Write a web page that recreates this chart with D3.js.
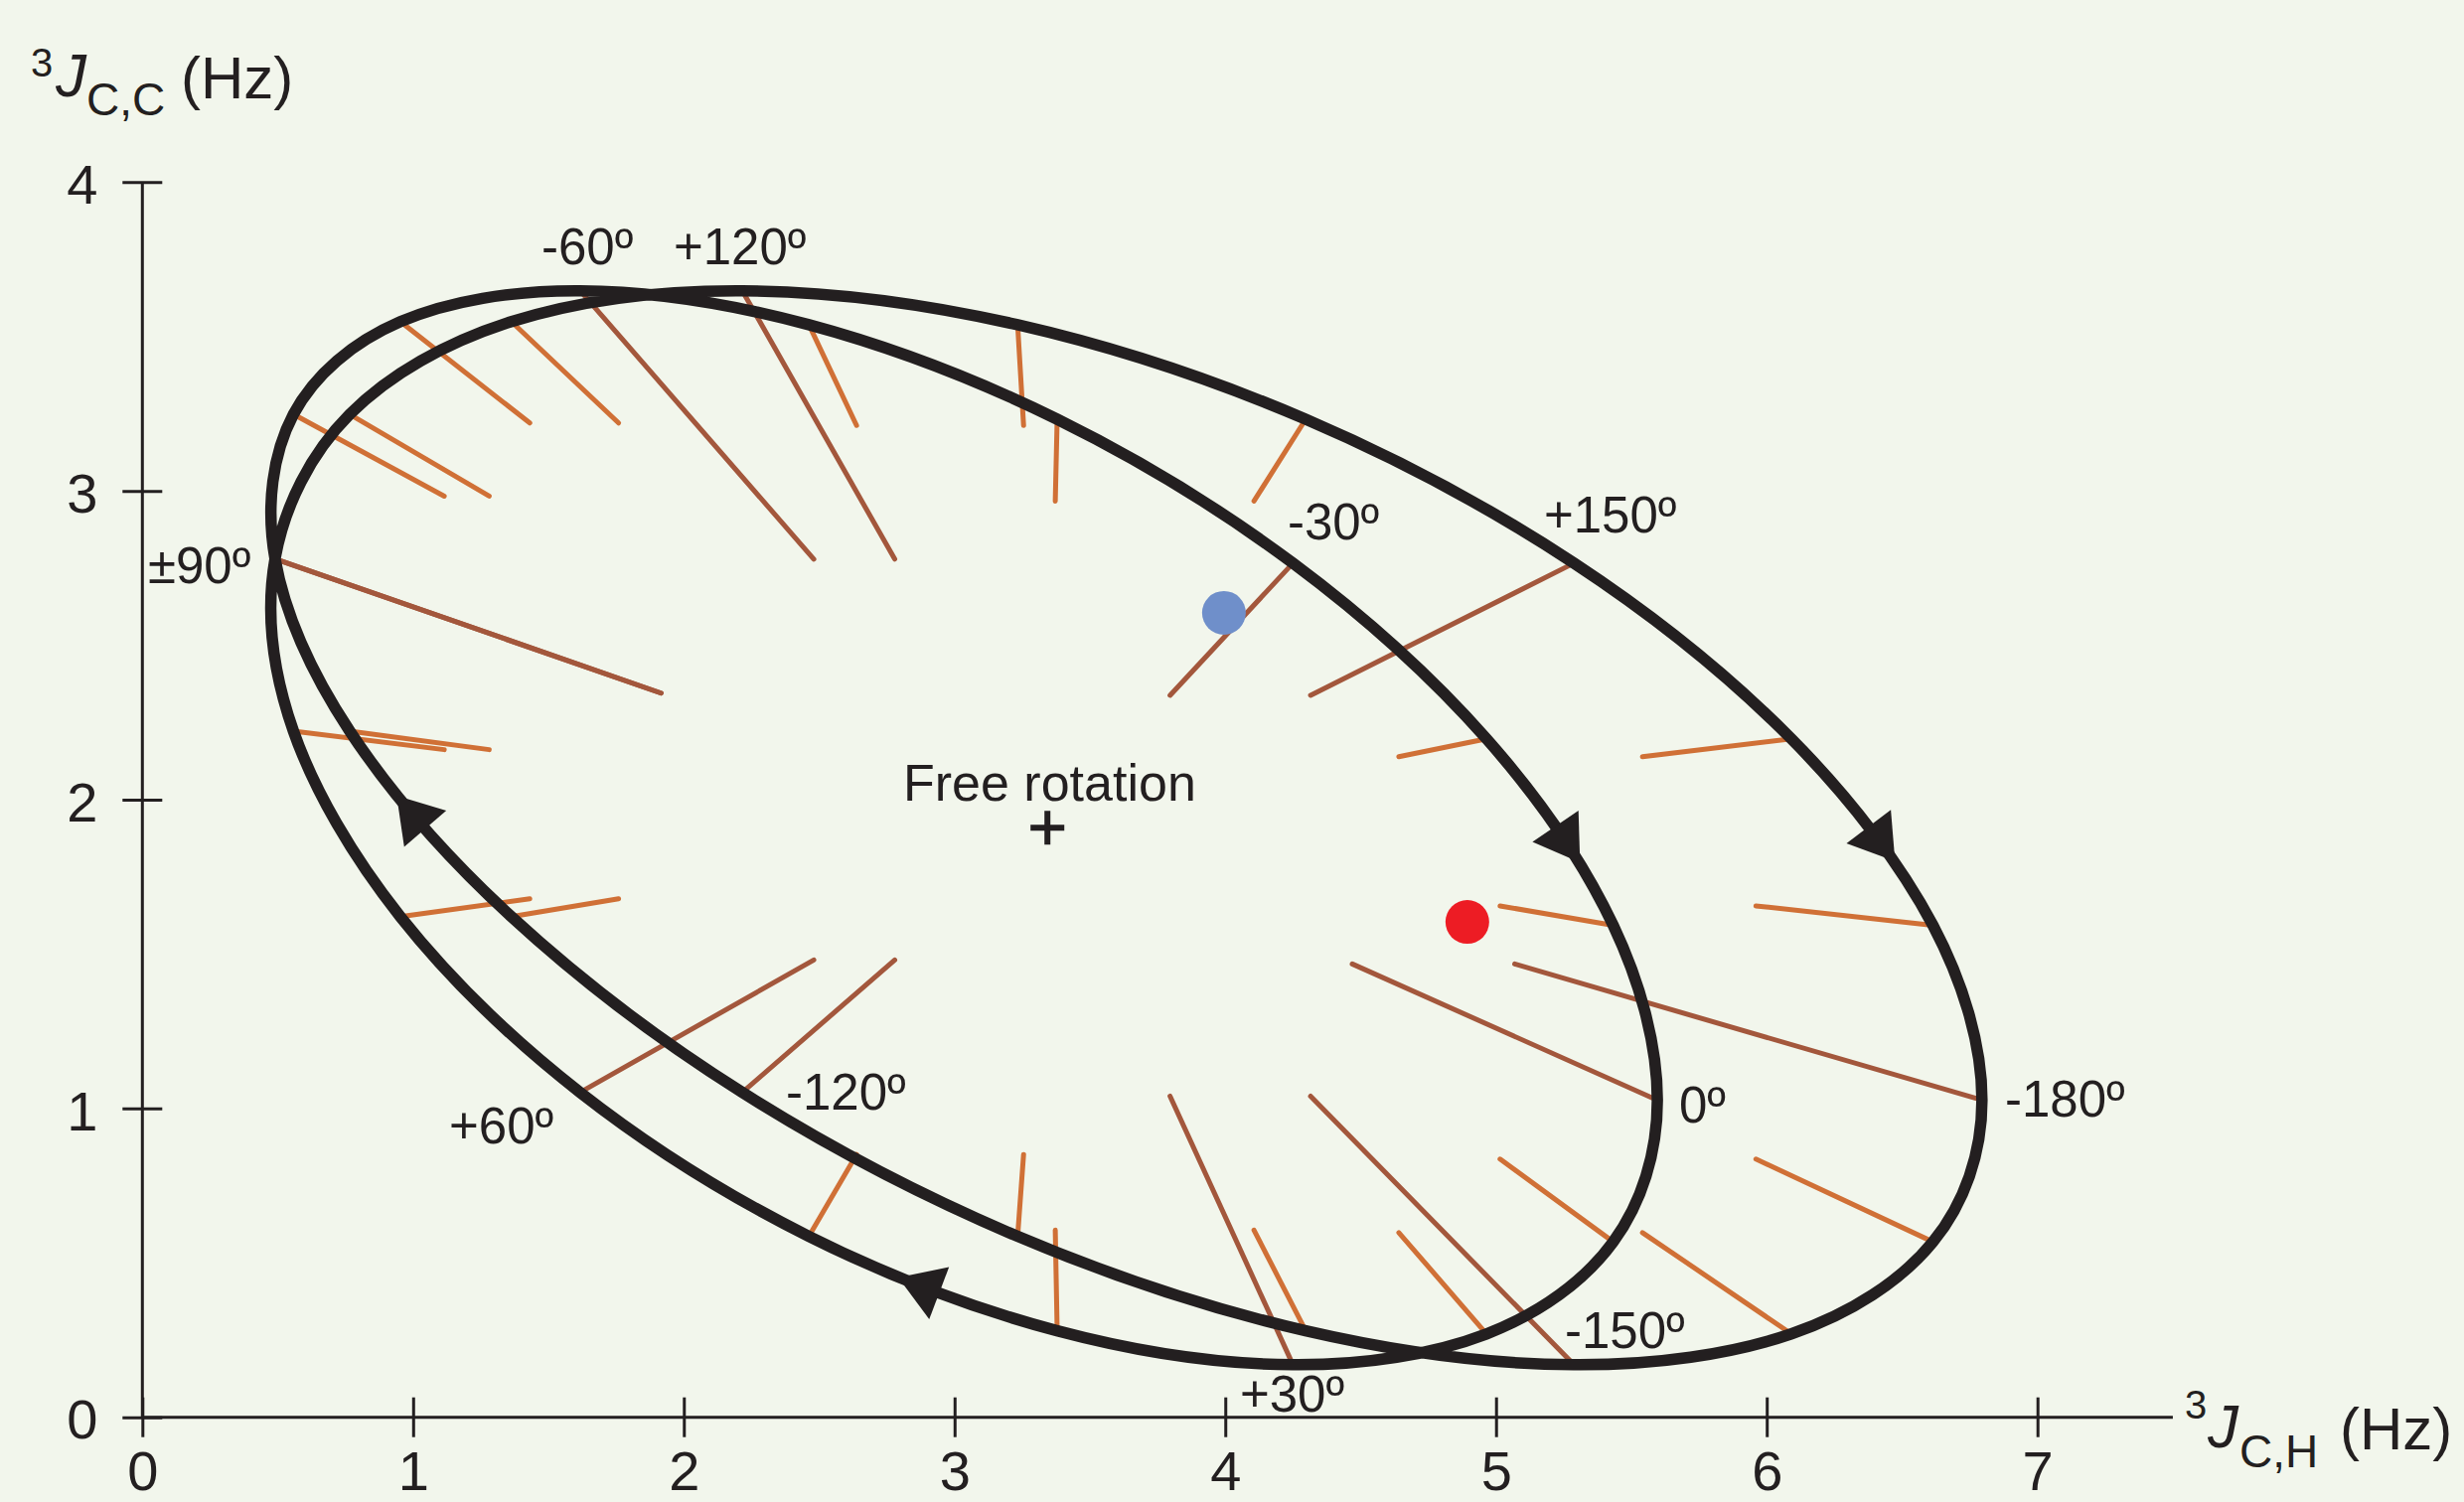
<!DOCTYPE html>
<html>
<head>
<meta charset="utf-8">
<script src="https://cdn.jsdelivr.net/npm/d3@7"></script>
<style>
  body { margin: 0; background: #f2f6ec; }
  svg { display: block; }
  text { font-family: "Liberation Sans", Arial, sans-serif; fill: #231f20; }
</style>
</head>
<body>
<svg id="chart" width="2480" height="1512"></svg>
<script>
// torsion angle (deg) for each point of the curve, every 10 degrees
var angles = [-180, -170, -160, -150, -140, -130, -120, -110, -100, -90, -80, -70,
  -60, -50, -40, -30, -20, -10, 0, 10, 20, 30, 40, 50,
  60, 70, 80, 90, 100, 110, 120, 130, 140, 150, 160, 170];

// 3J(C,H) and 3J(C,C) on the curve (Hz)
var jCH = [6.795, 6.614, 6.091, 5.288, 4.297, 3.233, 2.216, 1.363, 0.766, 0.490, 0.558, 0.953,
  1.617, 2.462, 3.379, 4.250, 4.965, 5.433, 5.596, 5.433, 4.965, 4.250, 3.379, 2.462,
  1.617, 0.953, 0.558, 0.490, 0.766, 1.363, 2.216, 3.233, 4.297, 5.288, 6.091, 6.614];
var jCC = [1.027, 0.568, 0.270, 0.170, 0.280, 0.586, 1.052, 1.621, 2.222, 2.780, 3.248, 3.548,
  3.648, 3.538, 3.232, 2.766, 2.197, 1.593, 1.027, 0.568, 0.270, 0.170, 0.280, 0.586,
  1.052, 1.621, 2.222, 2.780, 3.248, 3.548, 3.648, 3.538, 3.232, 2.766, 2.197, 1.593];

// inner end of the tick drawn from each curve point
var endCH = [5.069, 5.960, 5.541, 4.315, 4.106, 3.255, 2.779, 1.759, 1.281, 1.916, 1.115, 1.431,
  2.480, 2.638, 3.372, 3.796, 4.641, 5.015, 4.469, 5.015, 4.641, 3.796, 3.372, 2.638,
  2.480, 1.431, 1.115, 1.916, 1.281, 1.759, 2.779, 3.255, 4.106, 4.315, 5.541, 5.960];
var endCC = [1.468, 0.836, 0.598, 1.040, 0.606, 0.851, 1.481, 1.679, 2.162, 2.345, 2.983, 3.220,
  2.779, 3.212, 2.967, 2.338, 2.139, 1.656, 1.468, 0.836, 0.598, 1.040, 0.606, 0.851,
  1.481, 1.679, 2.162, 2.345, 2.983, 3.220, 2.779, 3.212, 2.967, 2.338, 2.139, 1.656];

// direction arrows: position on the curve and tangent (per radian)
var arrowCH = [1.028, 5.234, 2.919, 6.392];
var arrowCC = [1.923, 1.895, 0.410, 1.895];
var arrowDCH = [-3.432, 2.698, -5.282, 3.008];
var arrowDCC = [3.478, -3.478, 1.764, -3.478];

var freeRotation = [3.343, 1.909];
var dotCH = [3.995, 4.894];
var dotCC = [2.605, 1.604];

var angleLabels = ['-60º', '+120º', '-30º', '+150º', '±90º', '+60º', '-120º', '0º', '-180º', '-150º', '+30º'];
var labelCH = [1.474, 1.962, 4.230, 5.177, 0.021, 1.133, 2.377, 5.676, 6.880, 5.254, 4.054];
var labelCC = [3.733, 3.733, 2.843, 2.866, 2.702, 0.886, 0.996, 0.954, 0.973, 0.225, 0.018];

var xTicks = [0, 1, 2, 3, 4, 5, 6, 7];
var yTicks = [0, 1, 2, 3, 4];

var ink = '#231f20';
var svg = d3.select('#chart');

svg.append('rect').attr('width', 2480).attr('height', 1512).attr('fill', '#f2f6ec');

var x = d3.scaleLinear().domain([0, 7]).range([143.3, 2050.7]);
var y = d3.scaleLinear().domain([0, 4]).range([1426.7, 183.3]);

var points = angles.map(function(a, i) {
  return { angle: a, ch: jCH[i], cc: jCC[i], ech: endCH[i], ecc: endCC[i] };
});

// axes
var xAxis = d3.axisBottom(x).tickValues(xTicks).tickFormat(d3.format('d')).tickSize(40).tickPadding(14);
var gx = svg.append('g')
  .attr('transform', 'translate(0,' + (y(0) - 20) + ')')
  .call(xAxis);
gx.select('.domain').remove();
gx.selectAll('line').attr('stroke', ink).attr('stroke-width', 3);
gx.selectAll('text').attr('font-size', 56);

var yAxis = d3.axisLeft(y).tickValues(yTicks).tickFormat(d3.format('d')).tickSize(40).tickPadding(25);
var gy = svg.append('g')
  .attr('transform', 'translate(' + (x(0) + 20) + ',0)')
  .call(yAxis);
gy.select('.domain').remove();
gy.selectAll('line').attr('stroke', ink).attr('stroke-width', 3);
gy.selectAll('text').attr('font-size', 56).attr('dy', '0.38em');
gx.attr('font-family', null);
gy.attr('font-family', null);

svg.append('line')
  .attr('x1', x(0)).attr('x2', x(7.5))
  .attr('y1', y(0)).attr('y2', y(0))
  .attr('stroke', ink).attr('stroke-width', 3);
svg.append('line')
  .attr('x1', x(0)).attr('x2', x(0))
  .attr('y1', y(0)).attr('y2', y(4))
  .attr('stroke', ink).attr('stroke-width', 3);

// ticks from the curve towards the free-rotation point
svg.append('g').selectAll('line')
  .data(points)
  .enter()
  .append('line')
  .attr('x1', function(d) { return x(d.ch); })
  .attr('y1', function(d) { return y(d.cc); })
  .attr('x2', function(d) { return x(d.ech); })
  .attr('y2', function(d) { return y(d.ecc); })
  .attr('stroke', function(d) { return d.angle % 30 === 0 ? '#a3573c' : '#d07036'; })
  .attr('stroke-width', 5)
  .attr('stroke-linecap', 'round');

// dots
svg.append('g').selectAll('circle')
  .data(dotCH)
  .enter()
  .append('circle')
  .attr('cx', function(d) { return x(d); })
  .attr('cy', function(d, i) { return y(dotCC[i]); })
  .attr('r', 22)
  .attr('fill', function(d, i) { return i === 0 ? '#6f8fca' : '#ed1c24'; });

// the curve
var line = d3.line()
  .x(function(d) { return x(d.ch); })
  .y(function(d) { return y(d.cc); })
  .curve(d3.curveCardinalClosed.tension(0));

svg.append('path')
  .datum(points)
  .attr('d', line)
  .attr('fill', 'none')
  .attr('stroke', ink)
  .attr('stroke-width', 11.5)
  .attr('stroke-linejoin', 'round');

// arrowheads
var kx = x(1) - x(0), ky = y(0) - y(1);
svg.append('g').selectAll('path')
  .data(arrowCH)
  .enter()
  .append('path')
  .attr('d', function(d, i) {
    var px = x(d), py = y(arrowCC[i]);
    var ux = arrowDCH[i] * kx, uy = -arrowDCC[i] * ky;
    var len = Math.sqrt(ux * ux + uy * uy);
    ux /= len; uy /= len;
    var bx = px - ux * 7, by = py - uy * 7;
    var tx = px + ux * 37, ty = py + uy * 37;
    var nx = -uy * 28, ny = ux * 28;
    return 'M' + tx + ',' + ty + 'L' + (bx + nx) + ',' + (by + ny) + 'L' + (bx - nx) + ',' + (by - ny) + 'Z';
  })
  .attr('fill', ink);

// free rotation marker
var fx = x(freeRotation[0]), fy = y(freeRotation[1]);
svg.append('path')
  .attr('d', 'M' + (fx - 17) + ',' + fy + 'H' + (fx + 17) + 'M' + fx + ',' + (fy - 17) + 'V' + (fy + 17))
  .attr('stroke', ink)
  .attr('stroke-width', 6);

svg.append('text')
  .attr('x', x(2.810))
  .attr('y', y(1.997))
  .attr('font-size', 52)
  .text('Free rotation');

// angle labels
svg.append('g').selectAll('text')
  .data(angleLabels)
  .enter()
  .append('text')
  .attr('x', function(d, i) { return x(labelCH[i]); })
  .attr('y', function(d, i) { return y(labelCC[i]); })
  .attr('font-size', 51)
  .text(function(d) { return d; });

// axis titles
function title(g, parts) {
  parts.forEach(function(p) {
    g.append('text')
      .attr('x', p[1]).attr('y', p[2])
      .attr('font-size', p[3])
      .attr('font-style', p[4] ? 'italic' : null)
      .text(p[0]);
  });
}
title(svg.append('g'), [
  ['3', 31, 77, 40], ['J', 56, 97, 62, true], ['C,C', 87, 116, 46], ['(Hz)', 182, 99, 60]
]);
title(svg.append('g'), [
  ['3', 2199, 1428, 40], ['J', 2222, 1457, 62, true], ['C,H', 2254, 1477, 46], ['(Hz)', 2355, 1459, 60]
]);
</script>
</body>
</html>
